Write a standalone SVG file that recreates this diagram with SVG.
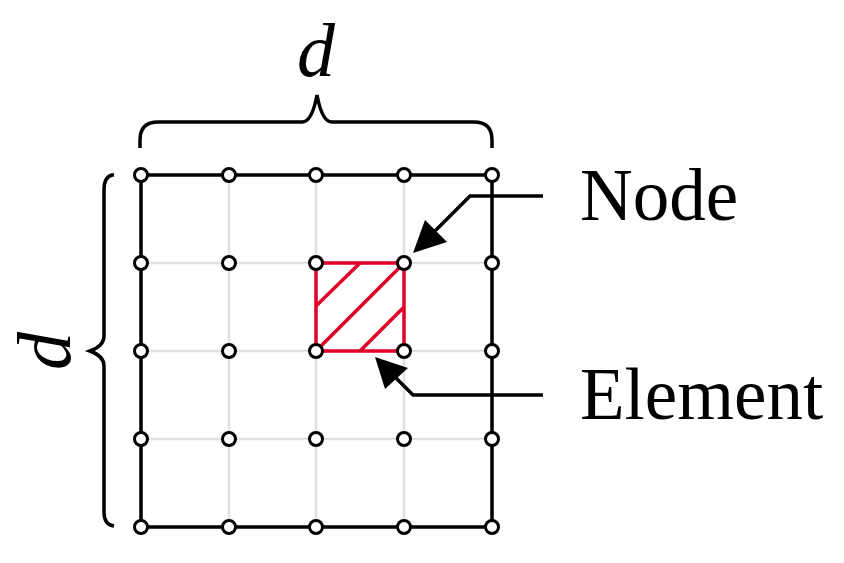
<svg xmlns="http://www.w3.org/2000/svg" width="844" height="563" viewBox="0 0 844 563">
<style>
.g{stroke:#e0e0e0;stroke-width:2.5;fill:none}
.b{stroke:#000;stroke-width:3.5;fill:none}
.r{stroke:#e0002a;stroke-width:3.5;fill:none}
.n{fill:#fff;stroke:#000;stroke-width:3}
.t{font-family:"Liberation Serif",serif;fill:#000}
</style>
<rect width="844" height="563" fill="#fff"/>
<g id="grid">
<path class="g" d="M229 175V527M316 175V527M404 175V527M141 263H492M141 351H492M141 439H492"/>
<path class="b" d="M141 175H492M141 527H492M141 175V527M492 175V527"/>
</g>
<g id="element">
<rect class="r" x="316" y="263" width="88" height="88"/>
<path class="r" d="M316 306L360 263M316 351L404 263M360 351L404 307"/>
</g>
<g id="nodes">
<circle class="n" cx="141" cy="175" r="6.5"/><circle class="n" cx="229" cy="175" r="6.5"/><circle class="n" cx="316" cy="175" r="6.5"/><circle class="n" cx="404" cy="175" r="6.5"/><circle class="n" cx="492" cy="175" r="6.5"/>
<circle class="n" cx="141" cy="263" r="6.5"/><circle class="n" cx="229" cy="263" r="6.5"/><circle class="n" cx="316" cy="263" r="6.5"/><circle class="n" cx="404" cy="263" r="6.5"/><circle class="n" cx="492" cy="263" r="6.5"/>
<circle class="n" cx="141" cy="351" r="6.5"/><circle class="n" cx="229" cy="351" r="6.5"/><circle class="n" cx="316" cy="351" r="6.5"/><circle class="n" cx="404" cy="351" r="6.5"/><circle class="n" cx="492" cy="351" r="6.5"/>
<circle class="n" cx="141" cy="439" r="6.5"/><circle class="n" cx="229" cy="439" r="6.5"/><circle class="n" cx="316" cy="439" r="6.5"/><circle class="n" cx="404" cy="439" r="6.5"/><circle class="n" cx="492" cy="439" r="6.5"/>
<circle class="n" cx="141" cy="527" r="6.5"/><circle class="n" cx="229" cy="527" r="6.5"/><circle class="n" cx="316" cy="527" r="6.5"/><circle class="n" cx="404" cy="527" r="6.5"/><circle class="n" cx="492" cy="527" r="6.5"/>
</g>
<g id="braces">
<path class="b" d="M140 148V140Q140 122 158 122H302Q312 122 317 95Q322 122 332 122H474Q492 122 492 140V148"/>
<path class="b" d="M114 175H112Q104 177 104 190V336Q104 346 90 351Q104 356 104 366V512Q104 525 114 526"/>
</g>
<g id="connectors">
<path class="b" d="M543 196H470L430 236"/>
<polygon points="413,253 425,220 447,242"/>
<path class="b" d="M543 395H413L390 372"/>
<polygon points="375,357 385,389 408,368"/>
</g>
<g id="labels">
<text class="t" x="316" y="76" font-size="76" font-style="italic" text-anchor="middle">d</text>
<text class="t" transform="translate(70,351) rotate(-90)" font-size="76" font-style="italic" text-anchor="middle">d</text>
<text class="t" x="580" y="220" font-size="73">Node</text>
<text class="t" x="580" y="419" font-size="73">Element</text>
</g>
</svg>
